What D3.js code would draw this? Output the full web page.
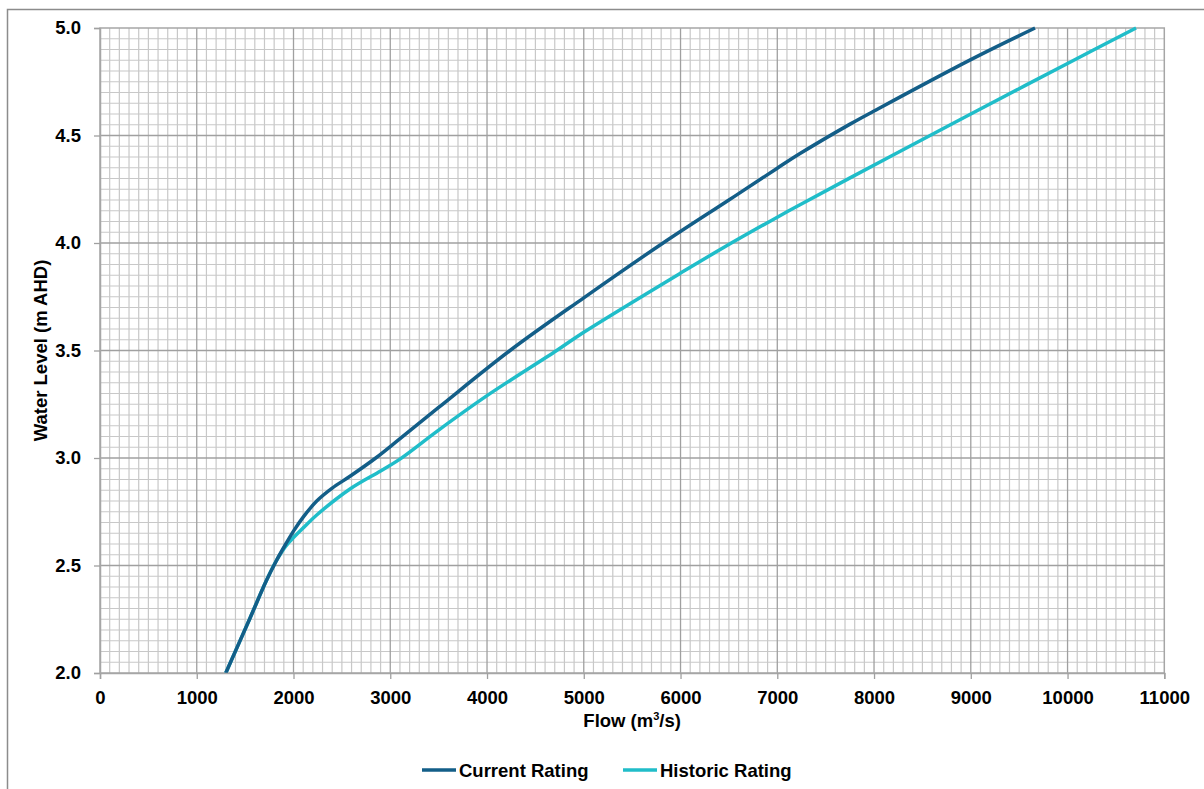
<!DOCTYPE html>
<html lang="en">
<head>
<meta charset="UTF-8">
<title>Rating Curves</title>
<script src="https://d3js.org/d3.v7.min.js"></script>
<style>
    body { margin: 0; background: #fff; }
    svg text { font-family: "Liberation Sans", Arial, sans-serif; font-weight: bold; fill: #000; }
</style>
</head>
<body>
<div id="chart"></div>
<script>
    // values
    const flowCurrent  = [1300, 1550, 1720, 1820, 1920, 2000, 2100, 2240, 2400, 2584, 2850, 3101, 3500, 4238, 5000, 5820, 6500, 7000, 7235, 7752, 8000, 9000, 9664];
    const levelCurrent = [2.0, 2.255, 2.43, 2.52, 2.6, 2.66, 2.725, 2.80, 2.86, 2.915, 3.0, 3.09, 3.235, 3.5, 3.745, 4.0, 4.2, 4.348, 4.416, 4.553, 4.614, 4.853, 5.0];
    const flowHistoric  = [1300, 1550, 1720, 1820, 1920, 2000, 2100, 2240, 2584, 2900, 3100, 3500, 4000, 4720, 5000, 6000, 6450, 7000, 7235, 7752, 8579, 9000, 10000, 10708];
    const levelHistoric = [2.0, 2.255, 2.43, 2.52, 2.59, 2.63, 2.675, 2.735, 2.856, 2.94, 2.995, 3.13, 3.29, 3.5, 3.585, 3.86, 3.98, 4.12, 4.178, 4.303, 4.5, 4.6, 4.835, 5.0];
    const xTicks = [0, 1000, 2000, 3000, 4000, 5000, 6000, 7000, 8000, 9000, 10000, 11000];
    const yTicks = [2.0, 2.5, 3.0, 3.5, 4.0, 4.5, 5.0];
    const seriesNames = ["Current Rating", "Historic Rating"];
    const seriesColors = ["#135e88", "#20bdc9"];

    const W = 1204, H = 789;
    const pLeft = 100, pRight = 1164.3, pTop = 28, pBottom = 673;

    const svg = d3.select("#chart").append("svg")
        .attr("width", W)
        .attr("height", H);

    // outer chart frame (runs off the right/bottom edge)
    svg.append("rect")
        .attr("x", 7.5).attr("y", 9.5)
        .attr("width", 1220).attr("height", 800)
        .attr("fill", "none")
        .attr("stroke", "#8c8c8c")
        .attr("stroke-width", 1.5);

    const x = d3.scaleLinear().domain([0, 11000]).range([pLeft, pRight]);
    const y = d3.scaleLinear().domain([2, 5]).range([pBottom, pTop]);

    // minor grid
    const g = svg.append("g");
    g.selectAll("line.mx")
        .data(d3.range(100, 11000, 100).filter(v => v % 1000 !== 0))
        .enter().append("line")
        .attr("x1", d => x(d)).attr("x2", d => x(d))
        .attr("y1", pTop).attr("y2", pBottom)
        .attr("stroke", "#c8c8c8").attr("stroke-width", 1.2);
    g.selectAll("line.my")
        .data(d3.range(1, 60).filter(i => i % 10 !== 0).map(i => 2 + i * 0.05))
        .enter().append("line")
        .attr("x1", pLeft).attr("x2", pRight)
        .attr("y1", d => y(d)).attr("y2", d => y(d))
        .attr("stroke", "#c8c8c8").attr("stroke-width", 1.2);

    // major grid
    g.selectAll("line.Mx")
        .data(xTicks.slice(1, -1))
        .enter().append("line")
        .attr("x1", d => x(d)).attr("x2", d => x(d))
        .attr("y1", pTop).attr("y2", pBottom)
        .attr("stroke", "#a0a0a0").attr("stroke-width", 1.3);
    g.selectAll("line.My")
        .data(yTicks.slice(1, -1))
        .enter().append("line")
        .attr("x1", pLeft).attr("x2", pRight)
        .attr("y1", d => y(d)).attr("y2", d => y(d))
        .attr("stroke", "#a0a0a0").attr("stroke-width", 1.3);

    // plot border
    svg.append("rect")
        .attr("x", pLeft).attr("y", pTop)
        .attr("width", pRight - pLeft).attr("height", pBottom - pTop)
        .attr("fill", "none")
        .attr("stroke", "#a6a6a6").attr("stroke-width", 1.5);

    // curves
    const line = d3.line()
        .x(d => x(d[0]))
        .y(d => y(d[1]))
        .curve(d3.curveCatmullRom.alpha(0.5));

    const series = [
        d3.zip(flowCurrent, levelCurrent),
        d3.zip(flowHistoric, levelHistoric)
    ];
    // draw historic first, current on top
    [1, 0].forEach(i => {
        svg.append("path")
            .datum(series[i])
            .attr("d", line)
            .attr("fill", "none")
            .attr("stroke", seriesColors[i])
            .attr("stroke-width", 3.5)
            .attr("stroke-linejoin", "round");
    });

    // axes
    const xAxis = svg.append("g")
        .attr("transform", `translate(0,${pBottom})`)
        .call(d3.axisBottom(x).tickValues(xTicks).tickFormat(d3.format("d")).tickSize(6).tickPadding(12));
    const yAxis = svg.append("g")
        .attr("transform", `translate(${pLeft},0)`)
        .call(d3.axisLeft(y).tickValues(yTicks).tickFormat(d3.format(".1f")).tickSize(6).tickPadding(13));
    [xAxis, yAxis].forEach(a => {
        a.select(".domain").attr("stroke", "#a6a6a6").attr("stroke-width", 1.5);
        a.selectAll(".tick line").attr("stroke", "#a0a0a0").attr("stroke-width", 1.3);
        a.selectAll("text").attr("font-size", "18.5px").attr("fill", "#000")
            .style("font-family", '"Liberation Sans", Arial, sans-serif').style("font-weight", "bold");
    });

    // axis titles
    const xTitle = svg.append("text")
        .attr("x", (pLeft + pRight) / 2)
        .attr("y", 727)
        .attr("text-anchor", "middle")
        .attr("font-size", "18.5px");
    xTitle.append("tspan").text("Flow (m");
    xTitle.append("tspan").attr("font-size", "11px").attr("dy", -7).text("3");
    xTitle.append("tspan").attr("dy", 7).text("/s)");

    svg.append("text")
        .attr("transform", `translate(47,${(pTop + pBottom) / 2}) rotate(-90)`)
        .attr("text-anchor", "middle")
        .attr("font-size", "18.5px")
        .text("Water Level (m AHD)");

    // legend
    const legendX = [422, 623];
    const legend = svg.selectAll("g.legend")
        .data(seriesNames)
        .enter().append("g")
        .attr("class", "legend")
        .attr("transform", (d, i) => `translate(${legendX[i]},770)`);
    legend.append("line")
        .attr("x1", 0).attr("x2", 34)
        .attr("stroke", (d, i) => seriesColors[i])
        .attr("stroke-width", 3.5);
    legend.append("text")
        .attr("x", 37)
        .attr("y", 7)
        .attr("font-size", "18.5px")
        .text(d => d);
</script>
</body>
</html>
